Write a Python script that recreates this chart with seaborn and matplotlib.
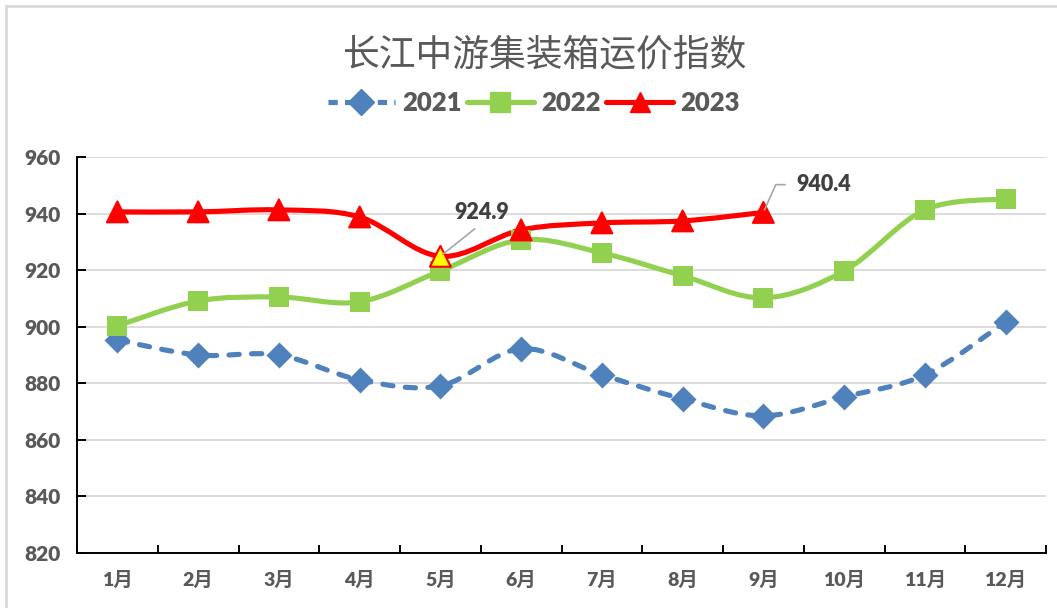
import numpy as np
import matplotlib
matplotlib.use("Agg")
import matplotlib.pyplot as plt
import seaborn as sns
from matplotlib.path import Path
from matplotlib.patches import PathPatch, Rectangle
from matplotlib.lines import Line2D

# data
months = ["1月", "2月", "3月", "4月", "5月", "6月", "7月", "8月", "9月", "10月", "11月", "12月"]
idx_2021 = [895.3, 890.0, 890.0, 881.2, 879.1, 892.2, 883.0, 874.5, 868.5, 875.2, 883.0, 901.7]
idx_2022 = [900.3, 909.1, 910.5, 908.8, 919.7, 930.7, 926.1, 918.0, 910.2, 919.7, 941.3, 945.2]
idx_2023 = [940.6, 940.6, 941.3, 938.8, 924.9, 934.2, 936.7, 937.4, 940.4]
y_ticks = [820, 840, 860, 880, 900, 920, 940, 960]

BLUE = "#4F81BD"
GREEN = "#92D050"
RED = "#FF0000"
GRAY_TXT = "#595959"
LW = 3.7

sns.set_theme(style="white")
plt.rcParams["font.family"] = ["Lato", "Noto Sans CJK SC", "DejaVu Sans"]
plt.rcParams["axes.unicode_minus"] = False


def smooth_path(xs, ys):
    # Excel style smoothed line: cubic bezier segments through every point
    pts = np.column_stack([xs, ys]).astype(float)
    n = len(pts)
    verts = [pts[0]]
    codes = [Path.MOVETO]
    for i in range(n - 1):
        p0 = pts[max(i - 1, 0)]
        p1 = pts[i]
        p2 = pts[i + 1]
        p3 = pts[min(i + 2, n - 1)]
        verts += [p1 + (p2 - p0) / 6, p2 - (p3 - p1) / 6, p2]
        codes += [Path.CURVE4] * 3
    return Path(verts, codes)


W, H = 1057, 608
fig = plt.figure(figsize=(W / 100, H / 100), dpi=100)
ax = fig.add_axes([77 / W, 1 - 553 / H, (1046 - 77) / W, (553 - 157) / H])

x_all = np.arange(len(months))
x_23 = np.arange(len(idx_2023))

ax.add_patch(PathPatch(smooth_path(x_all, idx_2021), fill=False, edgecolor=BLUE, lw=LW,
                       linestyle=(0, (2.0, 2.4)), capstyle="round", zorder=3))
ax.add_patch(PathPatch(smooth_path(x_all, idx_2022), fill=False, edgecolor=GREEN, lw=LW,
                       capstyle="round", zorder=3))
ax.add_patch(PathPatch(smooth_path(x_23, idx_2023), fill=False, edgecolor=RED, lw=LW,
                       capstyle="round", zorder=3))

sns.scatterplot(x=x_all, y=idx_2021, marker="D", s=175, color=BLUE, linewidth=0, ax=ax, zorder=4)
sns.scatterplot(x=x_all, y=idx_2022, marker="s", s=205, color=GREEN, linewidth=0, ax=ax, zorder=4)
face_23 = [RED] * len(idx_2023)
face_23[4] = "#FFFF00"
sns.scatterplot(x=x_23, y=idx_2023, marker="^", s=225, c=face_23, edgecolor=RED,
                linewidth=1.5, ax=ax, zorder=5)

ax.set_xlim(-0.5, len(months) - 0.5)
ax.set_ylim(y_ticks[0], y_ticks[-1])
ax.set_yticks(y_ticks)
ax.set_xticks(x_all)
ax.set_xticklabels(months)
ax.set_xticks(np.arange(-0.5, len(months), 1), minor=True)
ax.set_xlabel("")
ax.set_ylabel("")

ax.grid(axis="y", color="#D9D9D9", lw=1.3)
ax.set_axisbelow(True)
for side in ["top", "right"]:
    ax.spines[side].set_visible(False)
for side in ["left", "bottom"]:
    ax.spines[side].set_color("black")
    ax.spines[side].set_linewidth(1.4)

ax.tick_params(axis="y", direction="in", length=6.5, width=1.4, color="black", pad=12,
               labelsize=15, labelcolor=GRAY_TXT, left=True)
ax.tick_params(axis="x", which="major", length=0, pad=13, labelsize=14, labelcolor=GRAY_TXT)
ax.tick_params(axis="x", which="minor", direction="in", length=6, width=1.4, color="black",
               bottom=True)
for lab in ax.get_xticklabels() + ax.get_yticklabels():
    lab.set_fontweight("heavy")

# value labels with leader lines
ax.annotate("924.9", xy=(4, idx_2023[4]), xytext=(30, 24), textcoords="offset points",
            ha="center", va="bottom", fontsize=15.5, fontweight="heavy", color="#404040",
            arrowprops=dict(arrowstyle="-", color="#A6A6A6", lw=1.2, relpos=(0.5, 0),
                            shrinkA=3, shrinkB=2), zorder=6)
ax.annotate("940.4", xy=(8, idx_2023[8]), xytext=(24, 20), textcoords="offset points",
            ha="left", va="center", fontsize=15.5, fontweight="heavy", color="#404040",
            arrowprops=dict(arrowstyle="-", color="#A6A6A6", lw=1.2, relpos=(0, 0.5),
                            connectionstyle="angle,angleA=0,angleB=66,rad=0",
                            shrinkA=6, shrinkB=2), zorder=6)

fig.text(545 / W, 1 - 55 / H, "长江中游集装箱运价指数", ha="center", va="center",
         fontsize=26.5, color=GRAY_TXT, family=["Noto Sans CJK SC", "DejaVu Sans"])

handles = [
    Line2D([], [], color=BLUE, lw=LW, linestyle=(0, (1.8, 1.4)), marker="D", markersize=13),
    Line2D([], [], color=GREEN, lw=LW, marker="s", markersize=15),
    Line2D([], [], color=RED, lw=LW, marker="^", markersize=15),
]
fig.legend(handles, ["2021", "2022", "2023"], loc="center", bbox_to_anchor=(534 / W, 1 - 103 / H),
           ncol=3, frameon=False, handlelength=2.6, handletextpad=0.3, columnspacing=0.2,
           prop={"family": "Lato", "weight": "heavy", "size": 18.5}, labelcolor=GRAY_TXT)

fig.patches.append(Rectangle((6 / W, -0.1), 1.2, 1 - 6 / H + 0.1, transform=fig.transFigure,
                             fill=False, edgecolor="#D9D9D9", lw=2, clip_on=False))

fig.savefig("out.png", dpi=100, facecolor="white")
